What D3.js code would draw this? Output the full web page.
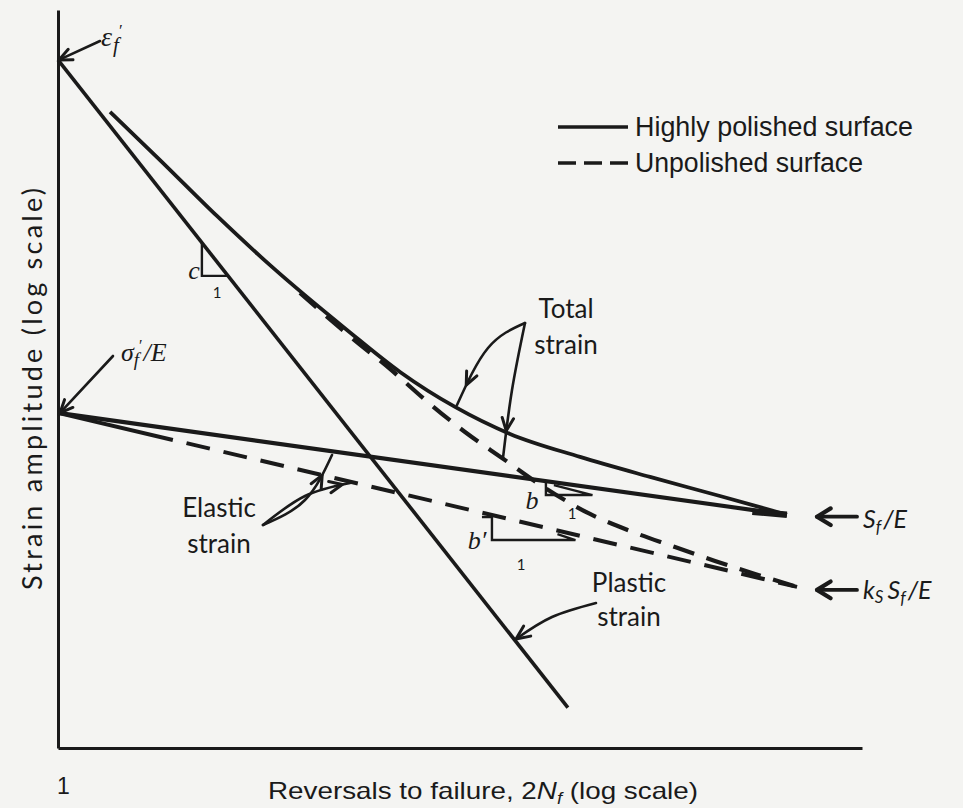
<!DOCTYPE html>
<html>
<head>
<meta charset="utf-8">
<script src="https://cdn.jsdelivr.net/npm/d3@7"></script>
<style>
  html, body { margin: 0; padding: 0; background: #f4f4f2; }
  svg { display: block; }
</style>
</head>
<body>
<svg id="chart" width="963" height="808"></svg>
<script>
// Strain–life diagram: strain amplitude vs reversals to failure, both on log scales.

// Axis domains (2N_f and strain amplitude)
const reversalsDomain = [1, 1e7];
const strainDomain = [1e-3, 1.65];
const xTickValues = [1];

// Plastic strain line: starts at ε'_f for 2N_f = 1, slope c
const plasticN = [1, 2.75e4];
const plasticStrain = [1.0, 1.5e-3];

// Elastic strain, highly polished: starts at σ'_f/E, slope b, ends at S_f/E
const elasticPolishedN = [1, 2.22e6];
const elasticPolishedStrain = [0.0289, 0.0104];

// Elastic strain, unpolished: slope b', ends at k_s S_f/E
const elasticUnpolishedN = [1, 2.72e6];
const elasticUnpolishedStrain = [0.0289, 0.00504];

// Total strain, highly polished surface
const totalPolishedN = [2.84, 7.73, 24.2, 73.0, 328, 950, 2862, 8615, 35060, 1.427e5, 5.80e5, 2.22e6];
const totalPolishedStrain = [0.593, 0.366, 0.2087, 0.1251, 0.06647, 0.04359, 0.03068, 0.0234, 0.01858, 0.0152, 0.01255, 0.0104];

// Total strain, unpolished surface
const totalUnpolishedN = [127.9, 348.6, 777, 1733, 3496, 7339, 17390, 42840, 95520, 2.217e5, 5.25e5, 1.171e6, 2.72e6];
const totalUnpolishedStrain = [0.0964, 0.0623, 0.04494, 0.03162, 0.02387, 0.01839, 0.01361, 0.01048, 0.00884, 0.0076, 0.00654, 0.00574, 0.00504];

// Legend entries
const legendLabels = ["Highly polished surface", "Unpolished surface"];

const INK = "#1a1a1a";
const svg = d3.select("#chart");
svg.append("rect").attr("width", 963).attr("height", 808).attr("fill", "#f4f4f2");

const x = d3.scaleLog().domain(reversalsDomain).range([58, 862]);
const y = d3.scaleLog().domain(strainDomain).range([748, 10]);

// ---- axes (plain frame lines, single "1" tick label) ----
const xAxisG = svg.append("g")
  .attr("transform", `translate(0,${y.range()[0]})`)
  .call(d3.axisBottom(x).tickValues(xTickValues).tickSize(0).tickSizeOuter(0)
        .tickFormat(d3.format("d")).tickPadding(30));
xAxisG.select(".domain").attr("stroke", INK).attr("stroke-width", 3);
xAxisG.selectAll("text")
  .attr("dx", 5)
  .attr("font-family", "'Liberation Sans', Arial, sans-serif")
  .attr("font-size", 23).attr("fill", INK);

const yAxisG = svg.append("g")
  .attr("transform", `translate(${x.range()[0]},0)`)
  .call(d3.axisLeft(y).tickValues([]).tickSize(0).tickSizeOuter(0));
yAxisG.select(".domain").attr("stroke", INK).attr("stroke-width", 3);

// axis titles
const xTitle = svg.append("text")
  .attr("x", 268).attr("y", 799)
  .attr("font-family", "'Liberation Sans Narrow', 'Liberation Sans', Arial, sans-serif")
  .attr("font-size", 24).attr("fill", INK)
  .attr("textLength", 430).attr("lengthAdjust", "spacingAndGlyphs");
xTitle.append("tspan").text("Reversals to failure, 2");
xTitle.append("tspan").attr("font-style", "italic").text("N");
xTitle.append("tspan").attr("font-style", "italic").attr("font-size", 16).attr("dy", 5).text("f");
xTitle.append("tspan").attr("dy", -5).text(" (log scale)");

svg.append("text")
  .attr("transform", "translate(42,389) rotate(-90)")
  .attr("text-anchor", "middle")
  .attr("font-family", "Lato, 'Open Sans', sans-serif")
  .attr("font-size", 27).attr("fill", INK)
  .attr("textLength", 402).attr("lengthAdjust", "spacing")
  .text("Strain amplitude (log scale)");

// ---- curves ----
const line = d3.line().x(d => x(d[0])).y(d => y(d[1]));
const smooth = d3.line().x(d => x(d[0])).y(d => y(d[1])).curve(d3.curveMonotoneX);

const marks = svg.append("g").attr("fill", "none").attr("stroke", INK).attr("stroke-linecap", "butt");

// plastic strain
marks.append("path").attr("d", line(d3.zip(plasticN, plasticStrain))).attr("stroke-width", 3.6);

// elastic, polished
marks.append("path").attr("d", line(d3.zip(elasticPolishedN, elasticPolishedStrain))).attr("stroke-width", 4.2);

// elastic, unpolished: solid near the origin, then dashed
marks.append("path").attr("d", line(d3.zip(elasticUnpolishedN, elasticUnpolishedStrain)))
  .attr("stroke-width", 4).attr("stroke-dasharray", "118,14" + ",24,14".repeat(40));

// total, polished
marks.append("path").attr("d", smooth(d3.zip(totalPolishedN, totalPolishedStrain)))
  .attr("stroke-width", 3.8);

// total, unpolished
marks.append("path").attr("d", smooth(d3.zip(totalUnpolishedN, totalUnpolishedStrain)))
  .attr("stroke-width", 4.2).attr("stroke-dasharray", "22,13");

// thickened end where total and elastic strain run together
marks.append("path").attr("d", line(d3.zip(
    [elasticPolishedN[1] / 2, elasticPolishedN[1]],
    [totalPolishedStrain[totalPolishedStrain.length - 1] * 1.03, elasticPolishedStrain[1]])))
  .attr("stroke-width", 6.5);

// ---- slope triangles ----
function logInterp(ns, ss, n) {
  const t = (Math.log(n) - Math.log(ns[0])) / (Math.log(ns[1]) - Math.log(ns[0]));
  return Math.exp(Math.log(ss[0]) + t * (Math.log(ss[1]) - Math.log(ss[0])));
}
// c on the plastic line
{
  const n1 = 17.9, n2 = 30.2;
  const e1 = logInterp(plasticN, plasticStrain, n1), e2 = logInterp(plasticN, plasticStrain, n2);
  marks.append("path")
    .attr("d", `M${x(n1)},${y(e1)}V${y(e2)}H${x(n2)}`)
    .attr("stroke-width", 2.4);
}
// b under the polished elastic line
{
  const n1 = 1.77e4, n2 = 4.5e4;
  const e1 = logInterp(elasticPolishedN, elasticPolishedStrain, n1);
  marks.append("path")
    .attr("d", `M${x(n1)},${y(e1)}V${y(e1) + 14}H${x(n2)}L${x(n1) + 8},${y(e1) + 4}`)
    .attr("stroke-width", 2.4);
}
// b' under the unpolished elastic line
{
  const n1 = 6.0e3, n2 = 3.2e4;
  const e1 = logInterp(elasticUnpolishedN, elasticUnpolishedStrain, n1);
  marks.append("path")
    .attr("d", `M${x(n1) - 10},${y(e1) + 2}H${x(n1)}V${y(e1) + 25}H${x(n2)}L${x(n2) - 18},${y(e1) + 19}`)
    .attr("stroke-width", 2.4);
}

// ---- annotation arrows ----
const ann = svg.append("g").attr("fill", "none").attr("stroke", INK)
  .attr("stroke-linecap", "round").attr("stroke-linejoin", "round");
const curvePath = d3.line().curve(d3.curveNatural);

function arrow(points, frac = 1, size = 14, width = 2.6, spread = 0.42) {
  const p = ann.append("path").attr("d", curvePath(points)).attr("stroke-width", width);
  const node = p.node();
  const L = node.getTotalLength();
  const a = node.getPointAtLength(L * frac);
  const b = node.getPointAtLength(Math.max(0, L * frac - 3));
  const ang = Math.atan2(a.y - b.y, a.x - b.x);
  const h1 = ang + Math.PI - spread, h2 = ang + Math.PI + spread;
  ann.append("path")
    .attr("d", `M${a.x + size * Math.cos(h1)},${a.y + size * Math.sin(h1)}L${a.x},${a.y}L${a.x + size * Math.cos(h2)},${a.y + size * Math.sin(h2)}`)
    .attr("stroke-width", width + 0.4);
}

// ε'_f and σ'_f/E pointers
arrow([[100, 41], [x(plasticN[0]) + 1, y(plasticStrain[0])]]);
arrow([[113, 356], [x(elasticPolishedN[0]) + 2, y(elasticPolishedStrain[0])]]);

// total strain
arrow([[525, 323], [488, 348], [457, 405]], 0.8);
arrow([[525, 323], [512, 390], [503, 458]], 0.8);

// elastic strain
arrow([[263, 525], [305, 500], [332, 455]], 0.78);
arrow([[263, 525], [305, 496], [350, 483]], 0.92);

// plastic strain
arrow([[596, 603], [552, 617], [516, 639]], 1, 15);

// S_f/E and k_s S_f/E markers
arrow([[857, y(elasticPolishedStrain[1]) + 2], [817, y(elasticPolishedStrain[1]) + 2]], 1, 16, 3.8, 0.55);
arrow([[857, y(elasticUnpolishedStrain[1]) + 3], [817, y(elasticUnpolishedStrain[1]) + 3]], 1, 16, 3.8, 0.55);

// ---- text labels ----
const serifIt = "'Liberation Serif', 'DejaVu Serif', serif";
const sansHum = "Lato, 'Open Sans', sans-serif";

function label(xp, yp, lines, anchor = "middle", size = 26, gap = 36) {
  lines.forEach((t, i) => {
    svg.append("text").attr("x", xp).attr("y", yp + i * gap)
      .attr("text-anchor", anchor).attr("font-family", sansHum)
      .attr("font-size", size).attr("fill", INK).text(t);
  });
}
label(566, 318, ["Total", "strain"]);
label(219, 517, ["Elastic", "strain"]);
label(629, 592, ["Plastic", "strain"], "middle", 26, 34);

// ε'_f
{
  const t = svg.append("text").attr("x", 101).attr("y", 46)
    .attr("font-family", serifIt).attr("font-style", "italic").attr("font-size", 28).attr("fill", INK);
  t.append("tspan").text("ε");
  t.append("tspan").attr("font-size", 21).attr("dx", 1).attr("dy", 6).text("f");
  t.append("tspan").attr("font-size", 17).attr("font-style", "normal").attr("dx", 0).attr("dy", -16).text("′");
}
// σ'_f/E
{
  const t = svg.append("text").attr("x", 121).attr("y", 361)
    .attr("font-family", serifIt).attr("font-style", "italic").attr("font-size", 26).attr("fill", INK);
  t.append("tspan").text("σ");
  t.append("tspan").attr("font-size", 19).attr("dx", 0).attr("dy", 5).text("f");
  t.append("tspan").attr("font-size", 16).attr("font-style", "normal").attr("dx", 0).attr("dy", -15).text("′");
  t.append("tspan").attr("dy", 10).attr("dx", 1).text("/E");
}
// slope labels
function slopeText(xp, yp, txt, size, italic = true, fam = serifIt) {
  svg.append("text").attr("x", xp).attr("y", yp).attr("font-family", fam)
    .attr("font-style", italic ? "italic" : "normal").attr("font-size", size)
    .attr("text-anchor", "middle").attr("fill", INK).text(txt);
}
slopeText(194, 279, "c", 26);
slopeText(217, 298, "1", 15, false, sansHum);
slopeText(532, 509, "b", 26);
slopeText(572, 519, "1", 15, false, sansHum);
slopeText(477, 549, "b′", 26);
slopeText(521, 570, "1", 15, false, sansHum);

// S_f/E and k_s S_f/E
{
  const t1 = svg.append("text").attr("x", 863).attr("y", y(elasticPolishedStrain[1]) + 13)
    .attr("font-family", sansHum).attr("font-style", "italic").attr("font-size", 25).attr("fill", INK);
  t1.append("tspan").text("S");
  t1.append("tspan").attr("font-size", 17).attr("dy", 5).text("f");
  t1.append("tspan").attr("dy", -5).attr("dx", 2).text("/E");

  const t2 = svg.append("text").attr("x", 863).attr("y", y(elasticUnpolishedStrain[1]) + 12)
    .attr("font-family", sansHum).attr("font-style", "italic").attr("font-size", 25).attr("fill", INK);
  t2.append("tspan").text("k");
  t2.append("tspan").attr("font-size", 17).attr("dy", 4).text("S");
  t2.append("tspan").attr("dy", -4).attr("dx", 4).text("S");
  t2.append("tspan").attr("font-size", 17).attr("dy", 5).text("f");
  t2.append("tspan").attr("dy", -5).attr("dx", 2).text("/E");
}

// ---- legend ----
const legend = svg.append("g").attr("transform", "translate(558,127)");
legendLabels.forEach((txt, i) => {
  const row = legend.append("g").attr("transform", `translate(0,${i * 36})`);
  row.append("line").attr("x1", 0).attr("x2", 70).attr("y1", 0).attr("y2", 0)
    .attr("stroke", INK).attr("stroke-width", 3.4)
    .attr("stroke-dasharray", i === 0 ? null : "18,8");
  row.append("text").attr("x", 77).attr("y", 9)
    .attr("font-family", "'Liberation Sans Narrow', 'Liberation Sans', Arial, sans-serif")
    .attr("font-size", 27).attr("fill", INK)
    .attr("textLength", i === 0 ? 278 : 228).attr("lengthAdjust", "spacingAndGlyphs")
    .text(txt);
});
</script>
</body>
</html>
